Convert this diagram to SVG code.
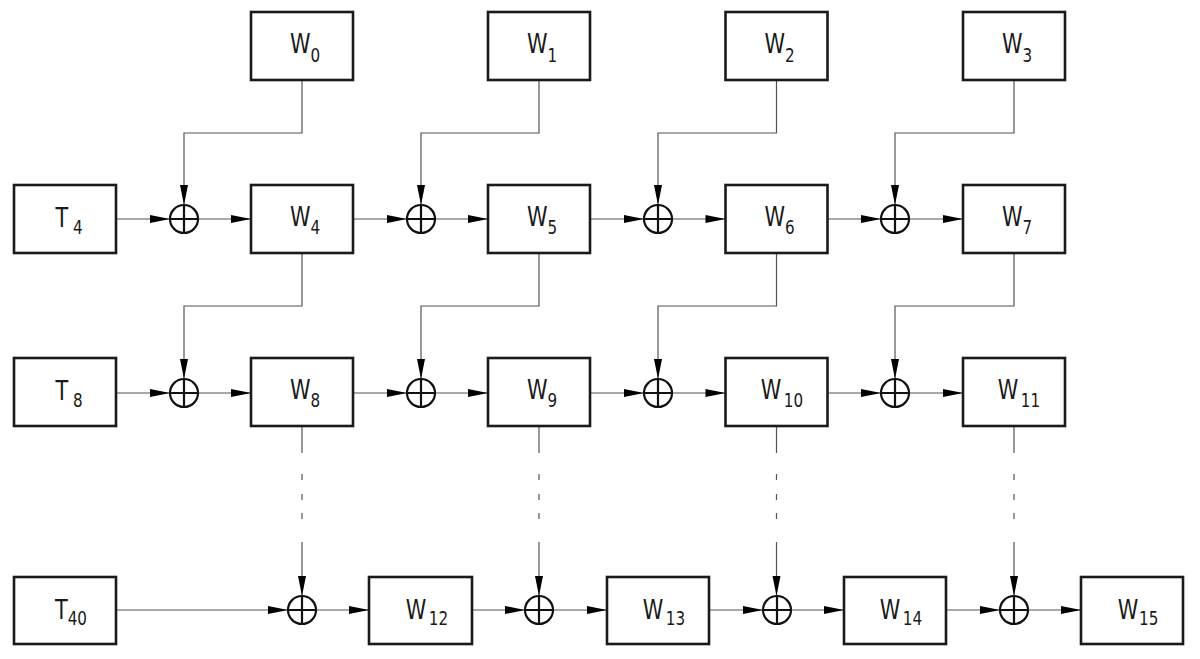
<svg xmlns="http://www.w3.org/2000/svg" width="1200" height="659" viewBox="0 0 1200 659">
<style>
.box{fill:#fff;stroke:#1a1a1a;stroke-width:2.6}
.xor{fill:none;stroke:#111;stroke-width:2.2}
.lbl{font-family:"DejaVu Sans","Liberation Sans",sans-serif;font-size:26px;fill:#1a1a1a;text-anchor:middle}
.sub{font-size:19px}
.ln{fill:none;stroke:#555;stroke-width:1.2}
.arr{marker-end:url(#ah)}
.dd{stroke-dasharray:27 21 6 14 6 13 6 23 80}
</style>
<defs>
<marker id="ah" markerUnits="userSpaceOnUse" markerWidth="22" markerHeight="10" refX="20" refY="4" orient="auto" overflow="visible">
<path d="M0,0 L20,4 L0,8 z" fill="#000"/>
</marker>
<g id="xorsym"><circle r="14" class="xor"/><path d="M-14,0 H14 M0,-14 V14" class="xor"/></g>
</defs>
<rect width="1200" height="659" fill="#fff"/>

<g id="connectors">
<path class="ln arr" d="M302,80 V133 H184 V205"/>
<path class="ln arr" d="M539,80 V133 H421 V205"/>
<path class="ln arr" d="M776.5,80 V133 H658 V205"/>
<path class="ln arr" d="M1014,80 V133 H895 V205"/>
<path class="ln arr" d="M116,219 H170"/>
<path class="ln arr" d="M198,219 H251"/>
<path class="ln arr" d="M353,219 H407"/>
<path class="ln arr" d="M435,219 H488"/>
<path class="ln arr" d="M590,219 H644"/>
<path class="ln arr" d="M672,219 H725.5"/>
<path class="ln arr" d="M827.5,219 H881"/>
<path class="ln arr" d="M909,219 H963"/>
<path class="ln arr" d="M302,253 V306 H184 V379"/>
<path class="ln arr" d="M539,253 V306 H421 V379"/>
<path class="ln arr" d="M776.5,253 V306 H658 V379"/>
<path class="ln arr" d="M1014,253 V306 H895 V379"/>
<path class="ln arr" d="M116,393 H170"/>
<path class="ln arr" d="M198,393 H251"/>
<path class="ln arr" d="M353,393 H407"/>
<path class="ln arr" d="M435,393 H488"/>
<path class="ln arr" d="M590,393 H644"/>
<path class="ln arr" d="M672,393 H725.5"/>
<path class="ln arr" d="M827.5,393 H881"/>
<path class="ln arr" d="M909,393 H963"/>
<path class="ln arr dd" d="M302,426 V596"/>
<path class="ln arr dd" d="M539,426 V596"/>
<path class="ln arr dd" d="M776.5,426 V596"/>
<path class="ln arr dd" d="M1014,426 V596"/>
<path class="ln arr" d="M116,610 H288"/>
<path class="ln arr" d="M316,610 H369"/>
<path class="ln arr" d="M472,610 H525"/>
<path class="ln arr" d="M553,610 H607"/>
<path class="ln arr" d="M709,610 H763"/>
<path class="ln arr" d="M791,610 H844"/>
<path class="ln arr" d="M946,610 H1000"/>
<path class="ln arr" d="M1028,610 H1081"/>
</g>

<g id="xor1a"><use href="#xorsym" x="184" y="219"/></g>
<g id="xor1b"><use href="#xorsym" x="421" y="219"/></g>
<g id="xor1c"><use href="#xorsym" x="658" y="219"/></g>
<g id="xor1d"><use href="#xorsym" x="895" y="219"/></g>
<g id="xor2a"><use href="#xorsym" x="184" y="393"/></g>
<g id="xor2b"><use href="#xorsym" x="421" y="393"/></g>
<g id="xor2c"><use href="#xorsym" x="658" y="393"/></g>
<g id="xor2d"><use href="#xorsym" x="895" y="393"/></g>
<g id="xor3a"><use href="#xorsym" x="302" y="610"/></g>
<g id="xor3b"><use href="#xorsym" x="539" y="610"/></g>
<g id="xor3c"><use href="#xorsym" x="777" y="610"/></g>
<g id="xor3d"><use href="#xorsym" x="1014" y="610"/></g>

<g id="W0"><rect class="box" x="251" y="12" width="102" height="68"/><text class="lbl" transform="translate(305,53) scale(0.8,1)">W<tspan class="sub" dy="9">0</tspan></text></g>
<g id="W1"><rect class="box" x="488" y="12" width="102" height="68"/><text class="lbl" transform="translate(542,53) scale(0.8,1)">W<tspan class="sub" dy="9">1</tspan></text></g>
<g id="W2"><rect class="box" x="725.5" y="12" width="102" height="68"/><text class="lbl" transform="translate(779.5,53) scale(0.8,1)">W<tspan class="sub" dy="9">2</tspan></text></g>
<g id="W3"><rect class="box" x="963" y="12" width="102" height="68"/><text class="lbl" transform="translate(1017,53) scale(0.8,1)">W<tspan class="sub" dy="9">3</tspan></text></g>

<g id="T4"><rect class="box" x="14" y="185" width="102" height="68"/><text class="lbl" transform="translate(69,227) scale(0.8,1)">T<tspan class="sub" dx="6" dy="7">4</tspan></text></g>
<g id="W4"><rect class="box" x="251" y="185" width="102" height="68"/><text class="lbl" transform="translate(305,226) scale(0.8,1)">W<tspan class="sub" dy="8">4</tspan></text></g>
<g id="W5"><rect class="box" x="488" y="185" width="102" height="68"/><text class="lbl" transform="translate(542,226) scale(0.8,1)">W<tspan class="sub" dy="8">5</tspan></text></g>
<g id="W6"><rect class="box" x="725.5" y="185" width="102" height="68"/><text class="lbl" transform="translate(779.5,226) scale(0.8,1)">W<tspan class="sub" dy="8">6</tspan></text></g>
<g id="W7"><rect class="box" x="963" y="185" width="102" height="68"/><text class="lbl" transform="translate(1017,226) scale(0.8,1)">W<tspan class="sub" dy="8">7</tspan></text></g>

<g id="T8"><rect class="box" x="14" y="358" width="102" height="68"/><text class="lbl" transform="translate(69,400) scale(0.8,1)">T<tspan class="sub" dx="6" dy="7">8</tspan></text></g>
<g id="W8"><rect class="box" x="251" y="358" width="102" height="68"/><text class="lbl" transform="translate(305,399) scale(0.8,1)">W<tspan class="sub" dy="8">8</tspan></text></g>
<g id="W9"><rect class="box" x="488" y="358" width="102" height="68"/><text class="lbl" transform="translate(542,399) scale(0.8,1)">W<tspan class="sub" dy="8">9</tspan></text></g>
<g id="W10"><rect class="box" x="725.5" y="358" width="102" height="68"/><text class="lbl" transform="translate(782,399) scale(0.8,1)">W<tspan class="sub" dx="3" dy="8">10</tspan></text></g>
<g id="W11"><rect class="box" x="963" y="358" width="102" height="68"/><text class="lbl" transform="translate(1019,399) scale(0.8,1)">W<tspan class="sub" dx="3" dy="8">11</tspan></text></g>

<g id="T40"><rect class="box" x="14" y="577" width="102" height="67"/><text class="lbl" transform="translate(71,619) scale(0.8,1)">T<tspan class="sub" dy="6">40</tspan></text></g>
<g id="W12"><rect class="box" x="369" y="577" width="103" height="67"/><text class="lbl" transform="translate(427,619) scale(0.8,1)">W<tspan class="sub" dx="3" dy="6">12</tspan></text></g>
<g id="W13"><rect class="box" x="607" y="577" width="102" height="67"/><text class="lbl" transform="translate(664,619) scale(0.8,1)">W<tspan class="sub" dx="3" dy="6">13</tspan></text></g>
<g id="W14"><rect class="box" x="844" y="577" width="102" height="67"/><text class="lbl" transform="translate(901,619) scale(0.8,1)">W<tspan class="sub" dx="3" dy="6">14</tspan></text></g>
<g id="W15"><rect class="box" x="1081" y="577" width="102" height="67"/><text class="lbl" transform="translate(1138,619) scale(0.8,1)">W<tspan class="sub" dx="1" dy="6">15</tspan></text></g>
</svg>
